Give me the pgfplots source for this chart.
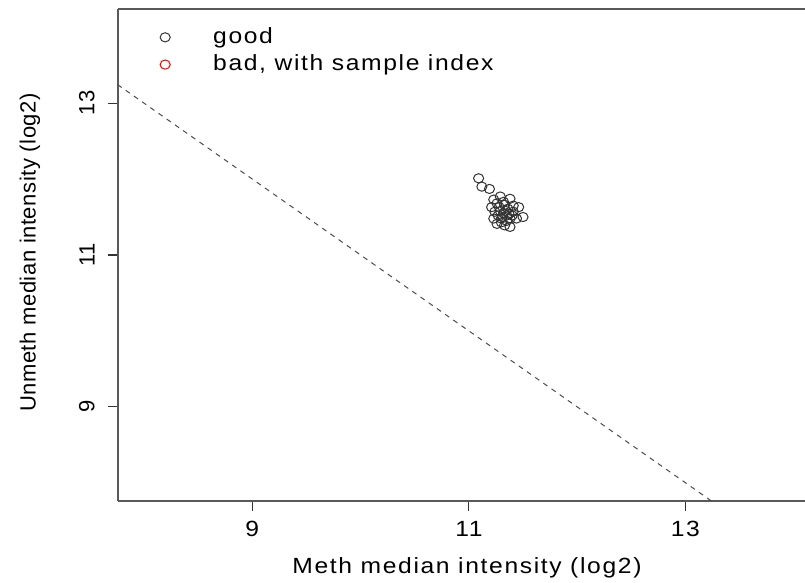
\documentclass[border=0pt]{standalone}
\usepackage{pgfplots}
\pgfplotsset{compat=1.18}
\usepackage{fontspec}
\setmainfont{Liberation Sans}[FakeStretch=1.12, LetterSpace=7.5]
\newfontfamily\vfont{Liberation Sans}[LetterSpace=2.5]
\begin{document}
\fontsize{11}{13}\selectfont
\begin{tikzpicture}[x=0.5pt,y=0.5pt]
\begin{axis}[
  scale only axis, width=343.5pt, height=246pt,
  xmin=7.76, xmax=14.104, ymin=7.76, ymax=14.24,
  axis x line=box, axis y line=left,
  axis line style={-, black!65, line width=0.6pt},
  xtick={9,11,13}, ytick={9,11,13},
  xtick pos=bottom, ytick pos=left,
  tick align=outside, major tick length=5pt,
  tick style={black!80, line width=0.6pt},
  /pgf/number format/assume math mode=true,
  xticklabel style={font=\fontsize{11}{13}\selectfont, yshift=-1.3pt},
  yticklabel style={font=\vfont\fontsize{11}{13}\selectfont, rotate=90, anchor=south, yshift=2.8pt},
  xlabel={Meth median intensity (log2)},
  ylabel={Unmeth median intensity (log2)},
  every axis x label/.style={at={(axis description cs:0.508,-0.1362)}, anchor=center, font=\fontsize{11}{13}\selectfont},
  every axis y label/.style={at={(axis description cs:-0.1281,0.505)}, rotate=90, anchor=center, font=\vfont\fontsize{11}{13}\selectfont},
  legend cell align=left,
  legend style={draw=none, fill=none, at={(axis description cs:0.052,0.979)}, anchor=north west, row sep=0pt, font=\fontsize{11}{13}\selectfont},
  legend image code/.code={\draw[#1] plot coordinates {(0pt,0pt)}; \draw[draw=none] (0pt,0pt) -- (22pt,0pt);},
]
\addplot[only marks, mark=o, mark size=2.3pt, black!80, mark options={line width=0.5pt, xscale=1.1}] coordinates {
(11.09,12.01) (11.12,11.90) (11.19,11.87) (11.29,11.77) (11.38,11.74)
(11.23,11.73) (11.32,11.70) (11.46,11.63) (11.21,11.63) (11.28,11.63)
(11.36,11.61) (11.41,11.57) (11.24,11.57) (11.32,11.55) (11.50,11.50)
(11.23,11.48) (11.30,11.48) (11.38,11.48) (11.44,11.48) (11.26,11.41)
(11.33,11.39) (11.38,11.37) (11.30,11.43) (11.35,11.52) (11.27,11.52)
(11.41,11.65) (11.34,11.58) (11.31,11.50) (11.37,11.54) (11.29,11.58)
(11.35,11.45) (11.40,11.52) (11.33,11.66) (11.26,11.68)
};
\addlegendentry{good}
\addlegendimage{only marks, mark=o, mark size=2.3pt, red, mark options={line width=0.5pt, xscale=1.1}}
\addlegendentry{bad, with sample index}
\addplot[black!70, dash pattern=on 2.5pt off 2.5pt, line width=0.5pt, forget plot] coordinates {(7,14) (14,7)};
\coordinate (SW) at (rel axis cs:0,0);
\end{axis}
\pgfresetboundingbox
\useasboundingbox ([shift={(-118,-82)}]SW) rectangle ++(805,583);
\end{tikzpicture}
\end{document}
